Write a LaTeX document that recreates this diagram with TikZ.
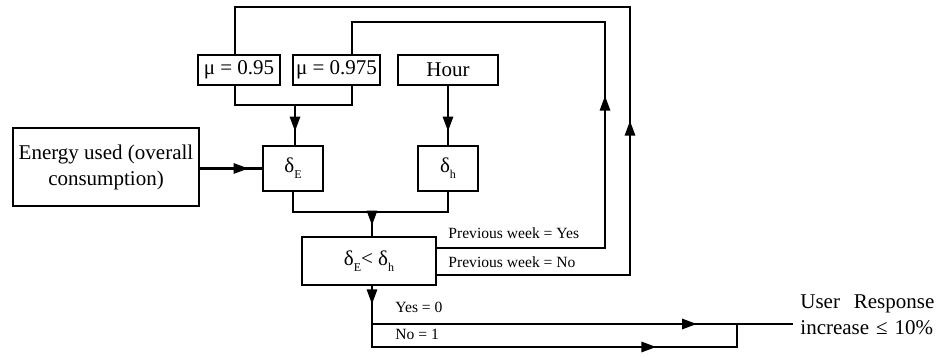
\documentclass[tikz,border=0pt]{standalone}
\usepackage{fontspec}
\setmainfont{Liberation Serif}
\usetikzlibrary{arrows.meta, positioning, calc, decorations.markings}

\tikzset{
  % plain rectangular box, black frame
  box/.style={
    draw, line width=1.4pt, inner sep=1pt,
    align=center, font=\fontsize{10.5}{13}\selectfont
  },
  % connectors
  wire/.style={line width=1.4pt},
  % a filled arrow head set part-way along a connector
  arrowat/.style={postaction={decorate, decoration={markings,
      mark=at position #1 with {\arrow{Triangle[length=7.5pt,width=5pt]}}}}},
  % small labels on the connectors
  tag/.style={font=\fontsize{7.8}{9}\selectfont, inner sep=0pt, anchor=base west},
}

\newcommand{\dsub}[1]{δ\raisebox{-0.6ex}{\fontsize{6}{7}\selectfont #1}}

\begin{document}
\begin{tikzpicture}[x=0.5pt, y=-0.5pt]

\useasboundingbox (0,0) rectangle (941,356);

% ------------------------------- the boxes ---------------------------------
\node[box, minimum width=41pt,   minimum height=15pt]   (mu95)   at (239,70)    {μ = 0.95};
\node[box, minimum width=43.5pt, minimum height=15pt]   (mu975)  at (336.5,70)  {μ = 0.975};
\node[box, minimum width=50pt,   minimum height=15pt]   (hour)   at (448,70)    {Hour};
\node[box, minimum width=93pt,   minimum height=39pt]   (energy) at (106,167)   {Energy used (overall\\consumption)};
\node[box, minimum width=30pt,   minimum height=22.5pt] (dE)     at (293,168.5) {\dsub{E}};
\node[box, minimum width=30pt,   minimum height=22.5pt] (dh)     at (448,168.5) {\dsub{h}};
\node[box, minimum width=67pt,   minimum height=24pt]   (cmp)    at (369,261)   {\dsub{E}< \dsub{h}};

% ------------------------------- result ------------------------------------
\node[anchor=west, inner xsep=3.5pt, inner ysep=0pt, text width=67pt, align=left,
      font=\fontsize{10.5}{13}\selectfont] (resp) at (793,315)
      {User\hfill Response\\increase ≤ 10\%};

% ------------------------------- junctions ---------------------------------
\coordinate (muJoin)  at (295,105);
\coordinate (dJoin)   at (372,212);
\coordinate (yesTurn) at (605,248);
\coordinate (yesTop)  at (605,22);
\coordinate (noTurn)  at (630,275);
\coordinate (noTop)   at (630,7);
\coordinate (yesL)    at (372,324);
\coordinate (botL)    at (372,347);
\coordinate (botR)    at (737,347);

% ------------------------------- inputs ------------------------------------
\draw[wire] ($(mu95.south)+(-4,0)$) |- (muJoin) -| ($(mu975.south)+(15.5,0)$);
\draw[wire, arrowat=-6.5pt] (muJoin) -- (muJoin |- dE.north);
\draw[wire, arrowat=-6.5pt] (hour) -- (dh);
\draw[wire, arrowat=-6.5pt] (energy.east |- dE.west) -- (dE.west);
\draw[wire] (dE.south) |- (dJoin) -| (dh.south);
\draw[wire, arrowat=-5pt] (dJoin) -- (dJoin |- cmp.north);

% ------------------------------- feedback loops ----------------------------
\draw[wire, arrowat=160pt] (cmp.east |- yesTurn) -- (yesTurn) -- (yesTop)
      -| ($(mu975.north)+(15.5,0)$);
\draw[wire, arrowat=173.5pt] (cmp.east |- noTurn) -- (noTurn) -- (noTop)
      -| ($(mu95.north)+(-4,0)$);
\node[tag] (lblYes) at (448,239) {Previous week = Yes};
\node[tag] (lblNo)  at (448,268) {Previous week = No};

% ------------------------------- outputs -----------------------------------
\draw[wire, arrowat=9pt, arrowat=172.5pt] (cmp.south -| dJoin) -- (botL) -- (botR) -- (botR |- yesL);
\draw[wire, arrowat=162.5pt] (yesL) -- (yesL -| resp.west);
\node[tag] (lblZero) at (395,313) {Yes = 0};
\node[tag] (lblOne)  at (395,340) {No = 1};

\end{tikzpicture}
\end{document}
